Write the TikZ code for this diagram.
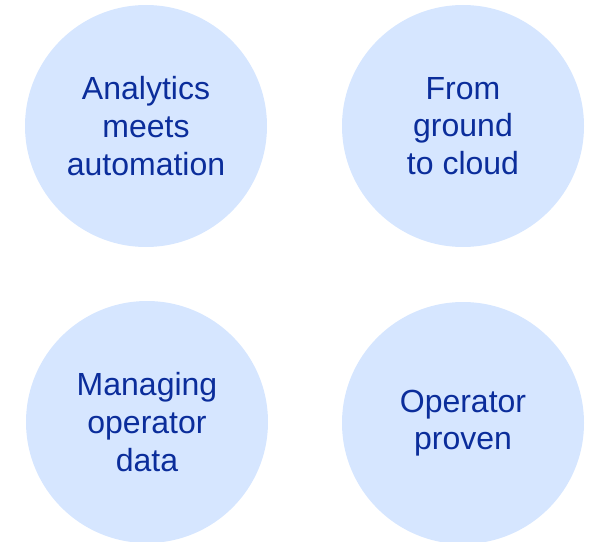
\documentclass[tikz,border=0pt]{standalone}
\usepackage{fontspec}
\setmainfont{Liberation Sans}
\definecolor{bubblefill}{HTML}{D6E6FF}
\definecolor{bubbletext}{HTML}{0B2D9B}

\begin{document}
\begin{tikzpicture}[x=.75pt,y=-.75pt]
\tikzset{bubble/.style={circle, fill=bubblefill, draw=none, minimum size=181.5pt, inner sep=0pt, align=center, text=bubbletext, font=\fontsize{24}{28.2}\selectfont}}
\useasboundingbox (0,0) rectangle (590,542);
\node[bubble] (analytics) at (146,126) {Analytics\\meets\\automation};
\node[bubble] (cloud) at (463,126) {From\\ground\\to cloud};
\node[bubble] (data) at (147,422) {Managing\\operator\\data};
\node[bubble] (proven) at (463,423) {Operator\\proven};

\end{tikzpicture}
\end{document}
